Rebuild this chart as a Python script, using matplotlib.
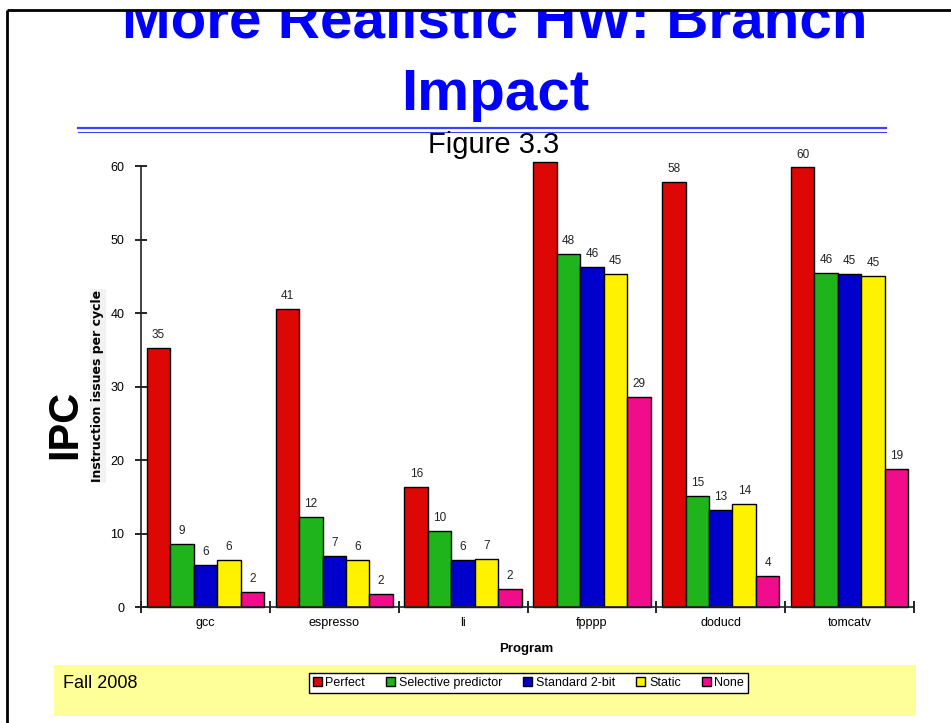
import matplotlib
matplotlib.use("Agg")
import matplotlib.pyplot as plt
import numpy as np
from matplotlib.patches import Rectangle

plt.rcParams['font.family'] = ['Liberation Sans', 'DejaVu Sans']

programs = ["gcc", "espresso", "li", "fpppp", "doducd", "tomcatv"]
series = ["Perfect", "Selective predictor", "Standard 2-bit", "Static", "None"]

perfect = [35.2, 40.6, 16.3, 60.6, 57.8, 59.8]
selective = [8.6, 12.2, 10.4, 48.0, 15.1, 45.5]
standard_2bit = [5.7, 6.9, 6.4, 46.2, 13.2, 45.3]
static = [6.4, 6.4, 6.6, 45.3, 14.0, 45.1]
none = [2.0, 1.8, 2.4, 28.6, 4.2, 18.8]

colors = ["#DD0806", "#20B41C", "#0000CC", "#FFF200", "#F00C8A"]

fig = plt.figure(figsize=(9.51, 7.23), dpi=100)

# slide background, drawn in pixel coords
bg = fig.add_axes([0, 0, 1, 1])
bg.set_xlim(0, 951)
bg.set_ylim(723, 0)
bg.axis("off")

bg.text(495, 38, "More Realistic HW: Branch", ha="center", va="baseline",
        fontsize=42, fontweight="bold", color="#0000FF", zorder=3)
bg.text(495, 110, "Impact", ha="center", va="baseline",
        fontsize=42, fontweight="bold", color="#0000FF", zorder=3)
bg.add_patch(Rectangle((0, 0), 951, 9.5, facecolor="white", edgecolor="none", zorder=4))
bg.plot([7, 951], [10, 10], color="black", lw=2, zorder=5, solid_capstyle="butt")
bg.plot([7, 7], [10, 723], color="black", lw=2, zorder=5, solid_capstyle="butt")

bg.plot([78, 886], [128, 128], color="#4040FF", lw=1.6)
bg.plot([78, 886], [131.5, 131.5], color="#4040FF", lw=0.8)
bg.text(494, 153, "Figure 3.3", ha="center", va="baseline", fontsize=21)

bg.add_patch(Rectangle((54, 665), 862, 51, facecolor="#FFFF99", edgecolor="none"))
bg.text(63, 688, "Fall 2008", ha="left", va="baseline", fontsize=13)

bg.text(65, 424, "IPC", rotation=90, ha="center", va="center",
        fontsize=30, fontweight="bold")
bg.text(98, 386, "Instruction issues per cycle", rotation=90, ha="center", va="center",
        fontsize=9, fontweight="bold", family="DejaVu Sans",
        bbox=dict(facecolor="#F2F2F2", edgecolor="none", pad=1))
bg.text(526, 649, "Program", ha="center", va="center", fontsize=9.5, fontweight="bold")

# chart
ax = fig.add_axes([0.1483, 0.1604, 0.8128, 0.6100])
ax.patch.set_alpha(0)
ax.set_xlim(0, 6)
ax.set_ylim(0, 60)

x = np.arange(len(programs)) + 0.5
w = 0.182
handles = []
for k, vals in enumerate([perfect, selective, standard_2bit, static, none]):
    pos = x + (k - 2) * w
    b = ax.bar(pos, vals, width=w, color=colors[k], edgecolor="black",
               linewidth=1, clip_on=False, zorder=2)
    handles.append(b)
    for px, v in zip(pos, vals):
        ax.annotate(f"{int(v + 0.5)}", (px, v), xytext=(0, 5), textcoords="offset points",
                    ha="center", va="bottom", fontsize=8.5, color="#222222")

for s in ["top", "right"]:
    ax.spines[s].set_visible(False)
for s in ["left", "bottom"]:
    ax.spines[s].set_color("#222222")
    ax.spines[s].set_linewidth(1.2)

ax.set_yticks(range(0, 61, 10))
ax.tick_params(axis="y", direction="inout", length=8, width=1.2, labelsize=9, pad=8)
ax.set_xticks(range(0, 7))
ax.set_xticklabels([])
ax.set_xticks(x, minor=True)
ax.set_xticklabels(programs, minor=True)
ax.tick_params(axis="x", which="major", direction="inout", length=8, width=1.2)
ax.tick_params(axis="x", which="minor", length=0, labelsize=9, pad=7)

fig.legend([h[0] for h in handles], series, loc="center", bbox_to_anchor=(0.5557, 0.0553),
           ncol=5, fontsize=9, frameon=True, fancybox=False, edgecolor="black",
           framealpha=1, handlelength=0.7, handleheight=0.7, handletextpad=0.3,
           columnspacing=1.7, borderpad=0.3, borderaxespad=0)

fig.savefig("out.png", dpi=100)
